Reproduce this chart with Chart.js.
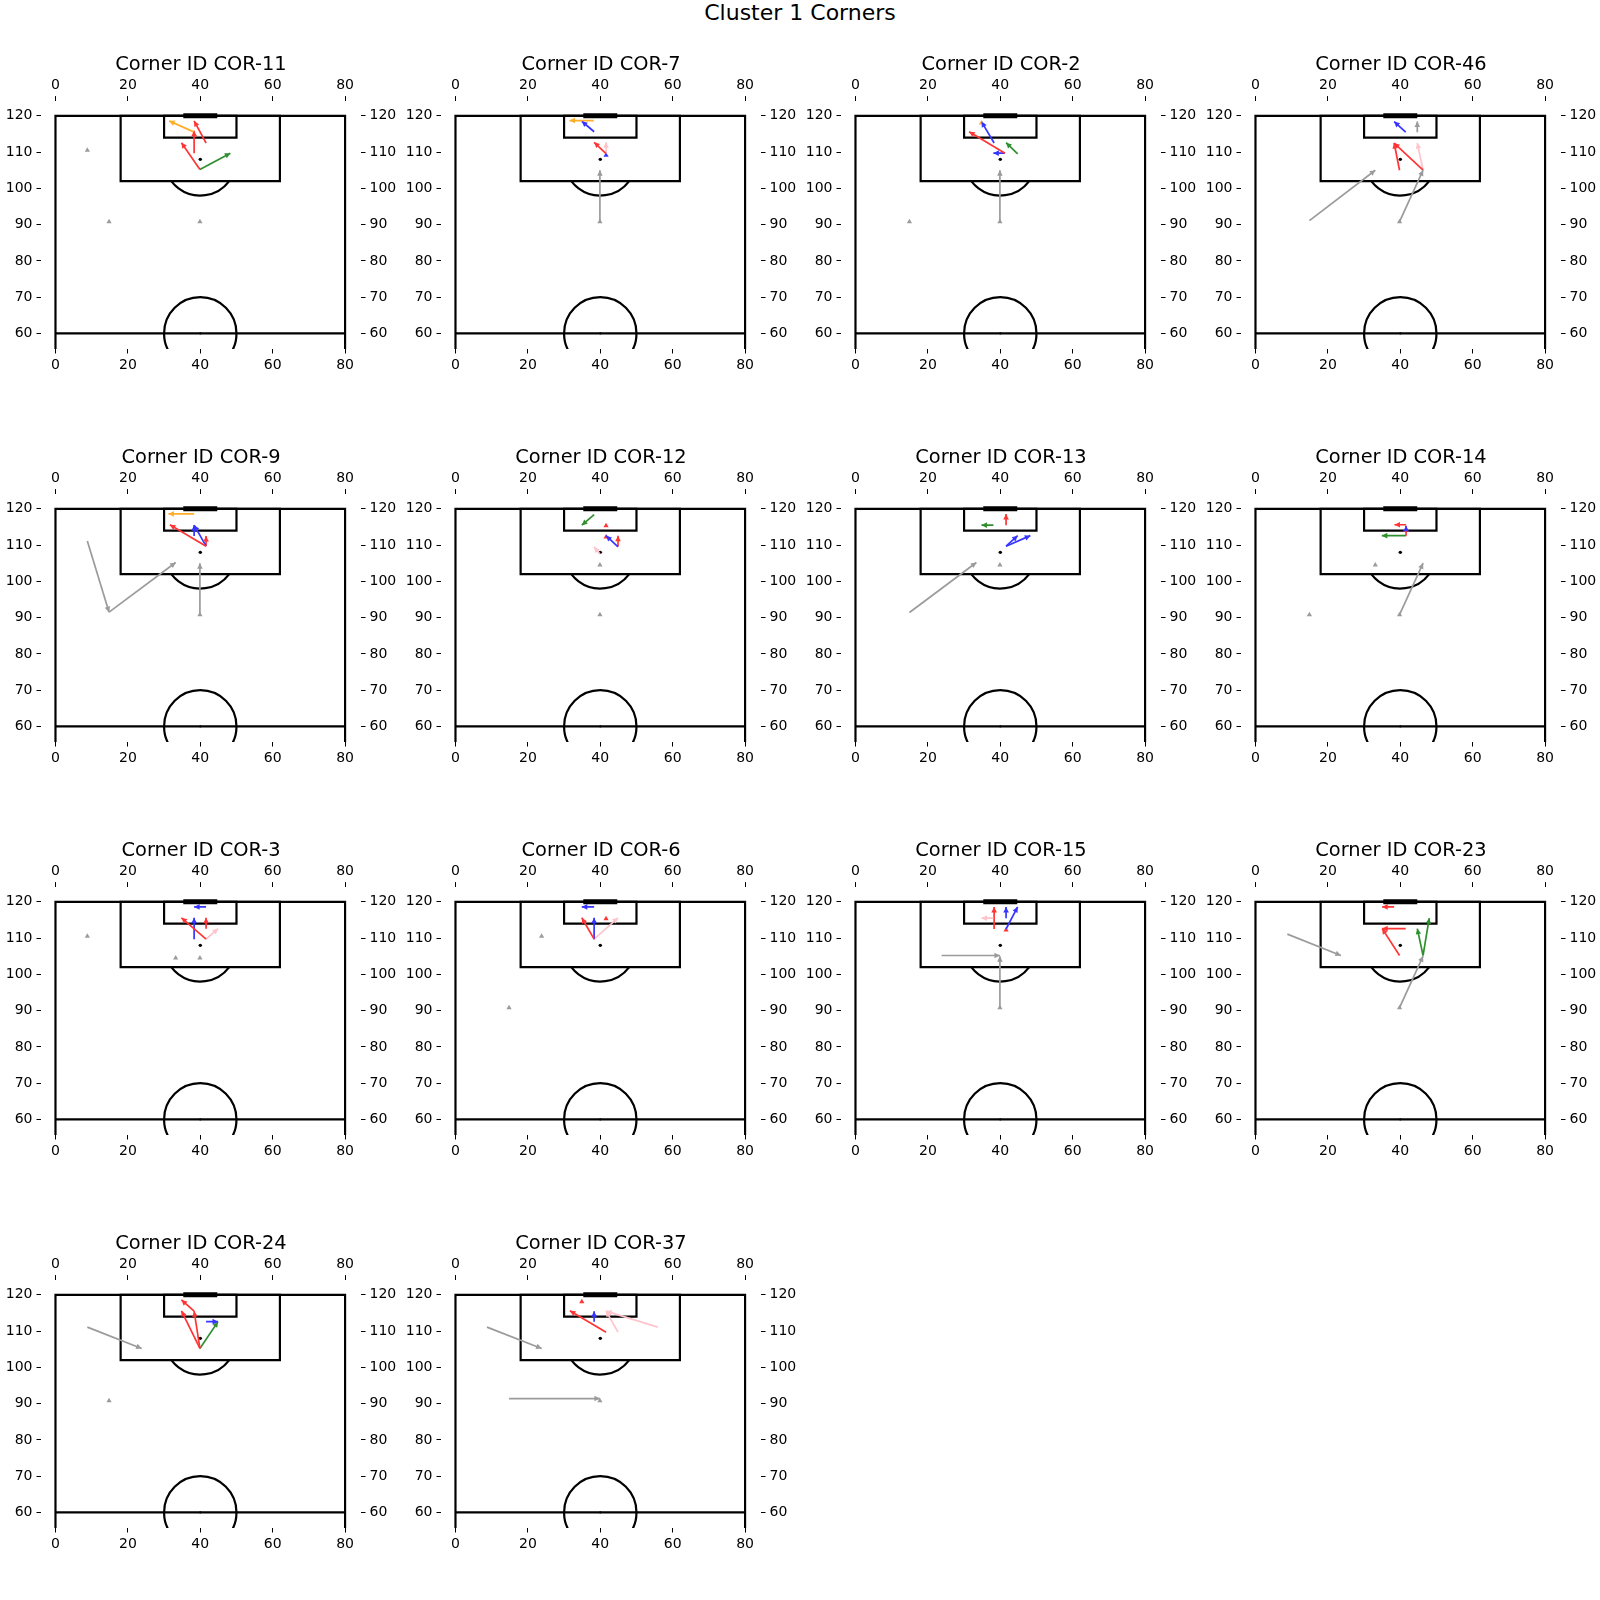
<!DOCTYPE html>
<html><head><meta charset="utf-8">
<script src="https://cdn.jsdelivr.net/npm/chart.js@4.4.0/dist/chart.umd.min.js"></script>
<style>
html,body{margin:0;padding:0;background:#fff;}
body{width:1600px;height:1600px;position:relative;overflow:hidden;font-family:'DejaVu Sans',sans-serif;}
#sup{position:absolute;left:0;top:0;width:1600px;text-align:center;font-size:22px;line-height:26px;color:#000;}
canvas{position:absolute;}
</style></head><body>
<div id="sup">Cluster 1 Corners</div>
<script>
// ---------------- data ----------------
const cornerIds = ['COR-11','COR-7','COR-2','COR-46','COR-9','COR-12','COR-13','COR-14','COR-3','COR-6','COR-15','COR-23','COR-24','COR-37'];
const xTickLabels = [0,20,40,60,80];
const yTickLabels = [60,70,80,90,100,110,120];

// each entry: [group, xStart, yStart, xEnd, yEnd]  or  [group, x, y] for a stationary player
const moves_COR_11 = [['gray',8.8,110.5],['gray',14.8,90.8],['gray',39.9,90.8],
  ['orange',38.3,115.5,31.4,118.6],['red',38.3,109.7,38.3,115.9],['red',41.6,112.5,38.3,118.6],
  ['red',39.9,105.2,34.8,112.6],['green',39.9,105.2,48.3,109.7]];
const moves_COR_7 = [['gray',39.9,90.8],['gray',39.9,90.8,39.9,105.0],
  ['orange',38.2,118.7,31.5,118.7],['blue',38.3,115.6,34.9,118.5],['red',41.6,109.6,38.3,112.7],
  ['pink',41.6,109.6,41.6,112.7],['blue',41.6,109.1]];
const moves_COR_2 = [['gray',14.9,90.8],['gray',39.9,90.8],['gray',39.9,90.8,39.9,105.0],
  ['orange',34.8,118.0],['blue',38.3,112.5,34.8,118.4],['red',41.3,109.7,31.4,115.6],
  ['blue',41.3,109.7,38.1,109.7],['green',44.8,109.5,41.6,112.6]];
const moves_COR_46 = [['gray',14.9,91.1,33.1,105.0],['gray',39.8,90.8],['gray',39.8,90.8,46.3,105.0],
  ['blue',41.5,115.5,38.3,118.4],['gray',44.7,115.5,44.7,118.4],['red',39.8,105.0,38.3,112.5],
  ['red',46.3,105.0,38.3,112.5],['pink',46.3,105.0,44.7,112.5]];
const moves_COR_9 = [['gray',8.8,111.1,14.8,91.5],['gray',14.8,91.5,33.2,105.2],['gray',39.9,90.8],
  ['gray',39.9,90.8,39.9,105.0],['orange',38.3,118.6,31.2,118.6],['red',41.6,109.7,31.6,115.6],
  ['blue',41.6,109.7,38.3,115.5],['blue',38.3,112.5,38.3,115.5],['red',41.6,109.7,41.6,112.5]];
const moves_COR_12 = [['gray',39.9,104.5],['gray',39.9,90.8],['green',38.3,118.4,34.9,115.5],
  ['red',41.6,115.3],['blue',44.9,109.5,41.6,112.6],['red',44.9,109.7,44.9,112.6],
  ['red',41.6,112.2],['pink',39.9,107.5,38.3,109.5]];
const moves_COR_13 = [['gray',14.9,91.4,33.4,105.2],['gray',39.9,104.5],['red',41.6,115.5,41.6,118.6],
  ['green',38.1,115.5,34.8,115.5],['blue',41.6,109.7,44.8,112.6],['blue',41.6,109.7,48.3,112.6]];
const moves_COR_14 = [['gray',33.1,104.5],['gray',14.9,90.8],['gray',39.8,90.8],['gray',39.8,90.8,46.3,105.0],
  ['red',41.6,112.6,41.6,115.2],['blue',41.6,114.4,41.6,115.3],['red',41.6,115.6,38.4,115.6],
  ['green',41.6,112.6,34.9,112.6]];
const moves_COR_3 = [['gray',8.8,110.5],['gray',33.2,104.5],['gray',39.9,104.5],
  ['blue',41.6,118.6,38.3,118.6],['red',41.6,109.7,34.8,115.6],['blue',38.3,109.7,38.3,115.6],
  ['red',41.6,112.6,41.6,115.6],['pink',41.6,109.7,44.9,112.6]];
const moves_COR_6 = [['gray',23.8,110.5],['gray',14.8,90.8],['blue',38.3,118.6,34.9,118.6],
  ['red',38.3,109.7,34.9,115.6],['blue',38.3,109.7,38.3,115.6],['red',41.6,115.3],
  ['pink',38.3,109.7,44.9,115.6]];
const moves_COR_15 = [['gray',23.8,105.2,39.9,105.2],['gray',39.9,90.8],['gray',39.9,90.8,39.9,105.0],
  ['pink',38.1,115.5,34.8,115.5],['red',38.3,112.5,38.3,118.6],['blue',41.6,115.5,41.6,118.6],
  ['blue',41.6,112.5,44.8,118.6],['red',41.6,112.2]];
const moves_COR_23 = [['gray',8.8,111.1,23.6,105.2],['gray',39.8,90.8],['gray',39.8,90.8,46.3,105.0],
  ['red',38.3,118.6,35.0,118.6],['red',41.5,112.6,35.0,112.6],['red',39.8,105.2,35.0,112.6],
  ['green',46.3,105.2,44.7,112.6],['green',46.3,105.2,48.0,115.5]];
const moves_COR_24 = [['gray',8.8,111.1,23.8,105.2],['gray',14.8,90.8],['red',39.9,105.2,34.8,115.6],
  ['red',39.9,105.2,38.3,115.5],['red',38.3,115.5,34.8,118.6],['green',39.9,105.2,44.9,112.6],
  ['blue',41.6,112.6,44.9,112.6]];
const moves_COR_37 = [['gray',8.7,111.1,23.8,105.2],['gray',14.8,91.4,39.9,91.4],['gray',39.9,90.8],
  ['red',34.9,118.1],['red',41.6,109.7,31.6,115.6],['blue',38.3,112.6,38.3,115.5],
  ['pink',55.9,111.1,41.6,115.5],['pink',44.9,109.7,41.6,115.5]];

const cornerMoves = {'COR-11':moves_COR_11,'COR-7':moves_COR_7,'COR-2':moves_COR_2,'COR-46':moves_COR_46,
  'COR-9':moves_COR_9,'COR-12':moves_COR_12,'COR-13':moves_COR_13,'COR-14':moves_COR_14,
  'COR-3':moves_COR_3,'COR-6':moves_COR_6,'COR-15':moves_COR_15,'COR-23':moves_COR_23,
  'COR-24':moves_COR_24,'COR-37':moves_COR_37};

// ---------------- pitch geometry (data units) ----------------
const pitchRects = [[0,0,80,120],[18,102,62,120],[30,114,50,120]];
const pitchSegments = [[0,60,80,60]];
const goalSegment = [36,120,44,120];
const penaltySpot = [40,108];
const centreSpot = [40,60];
const circleRadius = 10;

// ---------------- styles / layout ----------------
const groupColors = {gray:'#9b9b9b', red:'#ff3535', blue:'#3535ff', green:'#2f8f2f', orange:'#ffae2a', pink:'#ffc3cb'};
const X_MIN=-4.0, X_MAX=84.4, Y_MIN=55.7, Y_MAX=124.2;
const AREA_W=320, AREA_H=248;
const AX_LEFT0=41, COL_STEP=400, AX_TOP0=101, ROW_STEP=393;
const SIDE=50, TOPAX=26, BOTAX=30;
const TITLE_SIZE=19.4, TITLE_PAD_TOP=12, TITLE_PAD_BOT=-1.7;
const TITLE_H = TITLE_PAD_TOP + TITLE_SIZE*1.2 + TITLE_PAD_BOT;
const FONT = "'DejaVu Sans', sans-serif";

const pitchPlugin = {
  id:'pitch',
  beforeDatasetsDraw(chart){
    const {ctx, chartArea:a} = chart;
    const sx = chart.scales.x, sy = chart.scales.y;
    const px = v=>sx.getPixelForValue(v), py = v=>sy.getPixelForValue(v);
    ctx.save();
    ctx.beginPath(); ctx.rect(a.left, a.top, a.right-a.left, a.bottom-a.top); ctx.clip();
    ctx.strokeStyle='#000'; ctx.lineWidth=2.2; ctx.lineCap='butt'; ctx.lineJoin='miter';
    pitchRects.forEach(([x0,y0,x1,y1])=>{
      ctx.beginPath(); ctx.rect(px(x0), py(y1), px(x1)-px(x0), py(y0)-py(y1)); ctx.stroke();
    });
    pitchSegments.forEach(([x0,y0,x1,y1])=>{
      ctx.beginPath(); ctx.moveTo(px(x0),py(y0)); ctx.lineTo(px(x1),py(y1)); ctx.stroke();
    });
    const r = px(circleRadius) - px(0);
    const dy = penaltySpot[1]-pitchRects[1][1];
    const a0 = Math.asin(dy/circleRadius);
    ctx.beginPath(); ctx.arc(px(penaltySpot[0]), py(penaltySpot[1]), r, a0, Math.PI-a0); ctx.stroke();
    ctx.beginPath(); ctx.arc(px(centreSpot[0]), py(centreSpot[1]), r, 0, Math.PI*2); ctx.stroke();
    ctx.lineWidth=5; ctx.lineCap='square';
    ctx.beginPath(); ctx.moveTo(px(goalSegment[0]),py(goalSegment[1])); ctx.lineTo(px(goalSegment[2]),py(goalSegment[3])); ctx.stroke();
    ctx.fillStyle='#000';
    ctx.beginPath(); ctx.arc(px(penaltySpot[0]), py(penaltySpot[1]), 1.7, 0, Math.PI*2); ctx.fill();
    ctx.beginPath(); ctx.arc(px(centreSpot[0]), py(centreSpot[1]), 1.1, 0, Math.PI*2); ctx.fill();
    ctx.restore();
  }
};

const arrowHeadPlugin = {
  id:'arrowHeads',
  afterDatasetsDraw(chart){
    const ctx = chart.ctx;
    ctx.save();
    chart.data.datasets.forEach((ds,i)=>{
      if(!ds.isArrow) return;
      const meta = chart.getDatasetMeta(i);
      const p0 = meta.data[0], p1 = meta.data[1];
      const dx = p1.x-p0.x, dy = p1.y-p0.y, L = Math.hypot(dx,dy);
      if(L < 0.01) return;
      const ux = dx/L, uy = dy/L, hl = 5.5, hw = 2.8;
      ctx.beginPath();
      ctx.moveTo(p1.x, p1.y);
      ctx.lineTo(p1.x-ux*hl-uy*hw, p1.y-uy*hl+ux*hw);
      ctx.lineTo(p1.x-ux*hl+uy*hw, p1.y-uy*hl-ux*hw);
      ctx.closePath();
      ctx.fillStyle = ds.borderColor; ctx.fill();
    });
    ctx.restore();
  }
};

function axisCfg(pos){
  const isX = (pos==='top' || pos==='bottom');
  const pad = pos==='bottom' ? 3.5 : (pos==='top' ? 2.5 : 4);
  return {
    type:'linear', position:pos, clip:false,
    min: isX ? X_MIN : Y_MIN, max: isX ? X_MAX : Y_MAX,
    afterBuildTicks: s => { s.ticks = (isX ? xTickLabels : yTickLabels).map(v => ({value:v})); },
    afterFit: s => { if(isX) s.height = (pos==='top' ? TOPAX : BOTAX); else s.width = SIDE; },
    grid:{display:true, drawOnChartArea:false, drawTicks:true, tickLength:4.5, tickWidth:1, tickColor:'#000'},
    border:{display:false},
    ticks:{color:'#000', font:{family:FONT, size:14}, padding:pad, autoSkip:false, maxRotation:0, minRotation:0}
  };
}

cornerIds.forEach((id, idx)=>{
  const col = idx % 4, row = Math.floor(idx / 4);
  const cv = document.createElement('canvas');
  const W = SIDE*2 + AREA_W, H = TITLE_H + TOPAX + AREA_H + BOTAX;
  cv.width = W; cv.height = Math.round(H);
  cv.style.width = W+'px'; cv.style.height = Math.round(H)+'px';
  cv.style.left = (AX_LEFT0 + col*COL_STEP - SIDE) + 'px';
  cv.style.top = (AX_TOP0 + row*ROW_STEP - TOPAX - TITLE_H) + 'px';
  document.body.appendChild(cv);

  const datasets = [];
  cornerMoves[id].forEach(m=>{
    const [grp, ...c] = m;
    const col_ = groupColors[grp];
    if(c.length === 2){
      datasets.push({data:[{x:c[0],y:c[1]}], pointStyle:'triangle', pointRadius:3, pointHoverRadius:3,
        backgroundColor:col_, pointBackgroundColor:col_, borderWidth:0, pointBorderWidth:0, showLine:false,
        xAxisID:'x', yAxisID:'y'});
    } else {
      datasets.push({data:[{x:c[0],y:c[1]},{x:c[2],y:c[3]}], showLine:true, borderColor:col_, borderWidth:1.7,
        pointRadius:0, pointHoverRadius:0, isArrow:true, xAxisID:'x', yAxisID:'y'});
    }
  });

  new Chart(cv, {
    type:'scatter',
    data:{datasets},
    options:{
      responsive:false, animation:false, devicePixelRatio:1, events:[],
      layout:{padding:0},
      scales:{x:axisCfg('bottom'), x2:axisCfg('top'), y:axisCfg('left'), y2:axisCfg('right')},
      plugins:{
        legend:{display:false}, tooltip:{enabled:false},
        title:{display:true, text:'Corner ID '+id, color:'#000',
          font:{family:FONT, size:TITLE_SIZE, weight:'normal'},
          padding:{top:TITLE_PAD_TOP, bottom:TITLE_PAD_BOT}}
      }
    },
    plugins:[pitchPlugin, arrowHeadPlugin]
  });
});
</script>
</body></html>
